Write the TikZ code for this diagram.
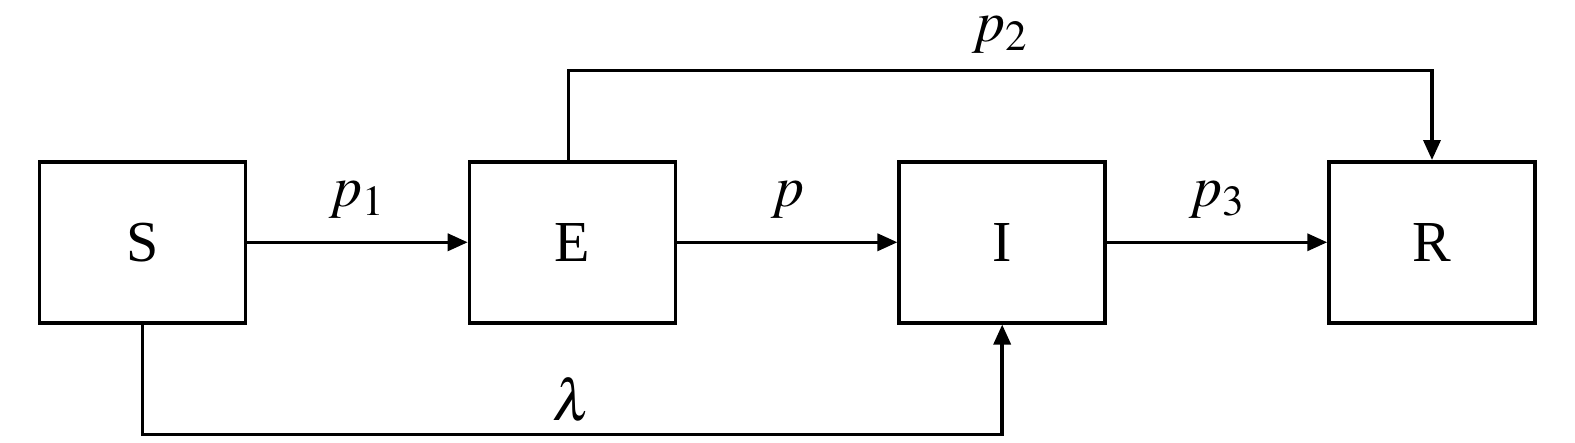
\documentclass[tikz,border=0pt]{standalone}
\usepackage{mathptmx}
\usepackage{fontspec}
\setmainfont{Liberation Serif}
\usepackage{tikz}
\usetikzlibrary{calc,arrows.meta}

\tikzset{
  compartment/.style={draw, line width=1pt, minimum width=2.06cm, minimum height=1.61cm},
  flow/.style={line width=1pt, -{Triangle[length=2mm,width=1.7mm]}}
}

\begin{document}
\begin{tikzpicture}[font=\fontsize{16.5pt}{19pt}\selectfont]
  \useasboundingbox (0,0) rectangle (15.75,-4.43);
  % compartments
  \node[compartment] (S) at (1.427,-2.423) {S};
  \node[compartment] (E) at (5.725,-2.423) {E};
  \node[compartment] (I) at (10.022,-2.423) {I};
  \node[compartment] (R) at (14.32,-2.423) {R};
  % flows
  \draw[flow] (S) -- node[above=3pt] {$p_1$} (E);
  \draw[flow] (E) -- node[above=3pt] {$p$} (I);
  \draw[flow] (I) -- node[above=3pt] {$p_3$} (R);
  \draw[flow] ([xshift=-0.04cm]E.north) -- ++(0,0.894) -| node[pos=0.25,above=1pt] {$p_2$} (R.north);
  \draw[flow] (S.south) -- ++(0,-1.10) -| node[pos=0.25,above] {$\lambda$} (I.south);
\end{tikzpicture}
\end{document}
